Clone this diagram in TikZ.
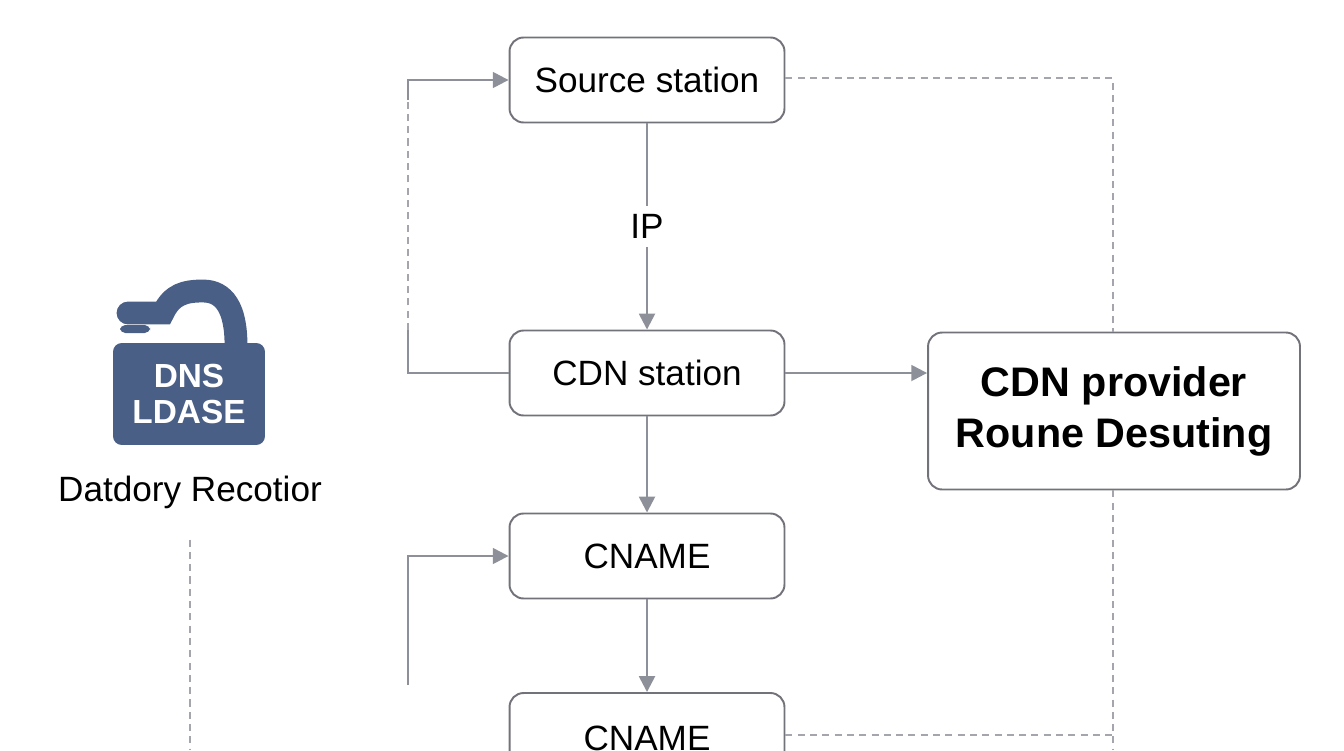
\documentclass[tikz,border=0pt]{standalone}
\usepackage{fontspec}
\setmainfont{Liberation Sans}
\usetikzlibrary{positioning,arrows.meta}
\definecolor{linegray}{HTML}{8E9099}
\definecolor{dnsblue}{HTML}{4A5F85}
\begin{document}
\begin{tikzpicture}[x=0.02cm,y=-0.02cm,
  box/.style={draw=linegray!80!black,line width=1.1pt,rounded corners=8pt,fill=white,
    minimum width=5.5cm,minimum height=1.7cm,font=\fontsize{20}{24}\selectfont},
  flow/.style={draw=linegray,line width=1.4pt,-{Triangle[length=9pt,width=9pt]}},
  link/.style={draw=linegray,line width=1.4pt},
  dashlink/.style={draw=linegray!80,line width=0.7pt,dash pattern=on 4pt off 3pt}]
\useasboundingbox (0,0) rectangle (1344,750);

% main column
\node[box] (source) at (647,80) {Source station};
\node[box] (cdn) at (647,373) {CDN station};
\node[box] (cname1) at (647,556) {CNAME};
\node[box,minimum height=1.8cm] (cname2) at (647,738) {CNAME};
\node[box,minimum width=7.44cm,minimum height=3.14cm,font=\fontsize{23.5}{29}\selectfont\bfseries,
  align=center] (provider) at (1114,411) {CDN provider\\Roune Desuting};

% arrows
\draw[flow] (source) -- node[fill=white,font=\fontsize{20}{24}\selectfont,inner sep=5pt] {IP} (cdn);
\draw[flow] (cdn.east) -- (cdn.east -| provider.west);
\draw[flow] (cdn) -- (cname1);
\draw[flow] (cname1) -- (cname2);

% loops on the left
\coordinate (loopa) at (408,330);
\coordinate (loopb) at (408,100);
\coordinate (loopc) at (408,685);
\draw[link] (cdn.west) -| (loopa);
\draw[dashlink] (loopa) -- (loopb);
\draw[flow] (loopb) |- (source.west);
\draw[flow] (loopc) |- (cname1.west);

% dashed returns
\coordinate (rtop) at (1113,78);
\coordinate (rbot) at (1113,750);
\draw[dashlink] (source.east |- rtop) -- (rtop) -- (provider.north -| rtop);
\draw[dashlink] (provider.south -| rbot) -- (rbot);
\draw[dashlink] (cname2.east |- 0,735) -- (1113,735);

% DNS icon
\draw[dnsblue,line width=13pt,line cap=round] (128,313) -- (163,313) .. controls (172,294) and (185,291) .. (203,291)
  .. controls (224,291) and (236,308) .. (236,345);
\fill[dnsblue,rounded corners=3pt] (120,325) rectangle (150,333);
\node[fill=dnsblue,rounded corners=5pt,minimum width=3.04cm,minimum height=2.04cm,
  text=white,font=\fontsize{19}{21}\selectfont\bfseries,align=center] (dns) at (189,394) {DNS\\LDASE};
\node[font=\fontsize{20}{24}\selectfont] (dnslabel) at (190,492) {Datdory Recotior};
\coordinate (dnsend) at (190,750);
\draw[dashlink] (dnslabel.south) ++(0,25) -- (dnsend);
\end{tikzpicture}
\end{document}
